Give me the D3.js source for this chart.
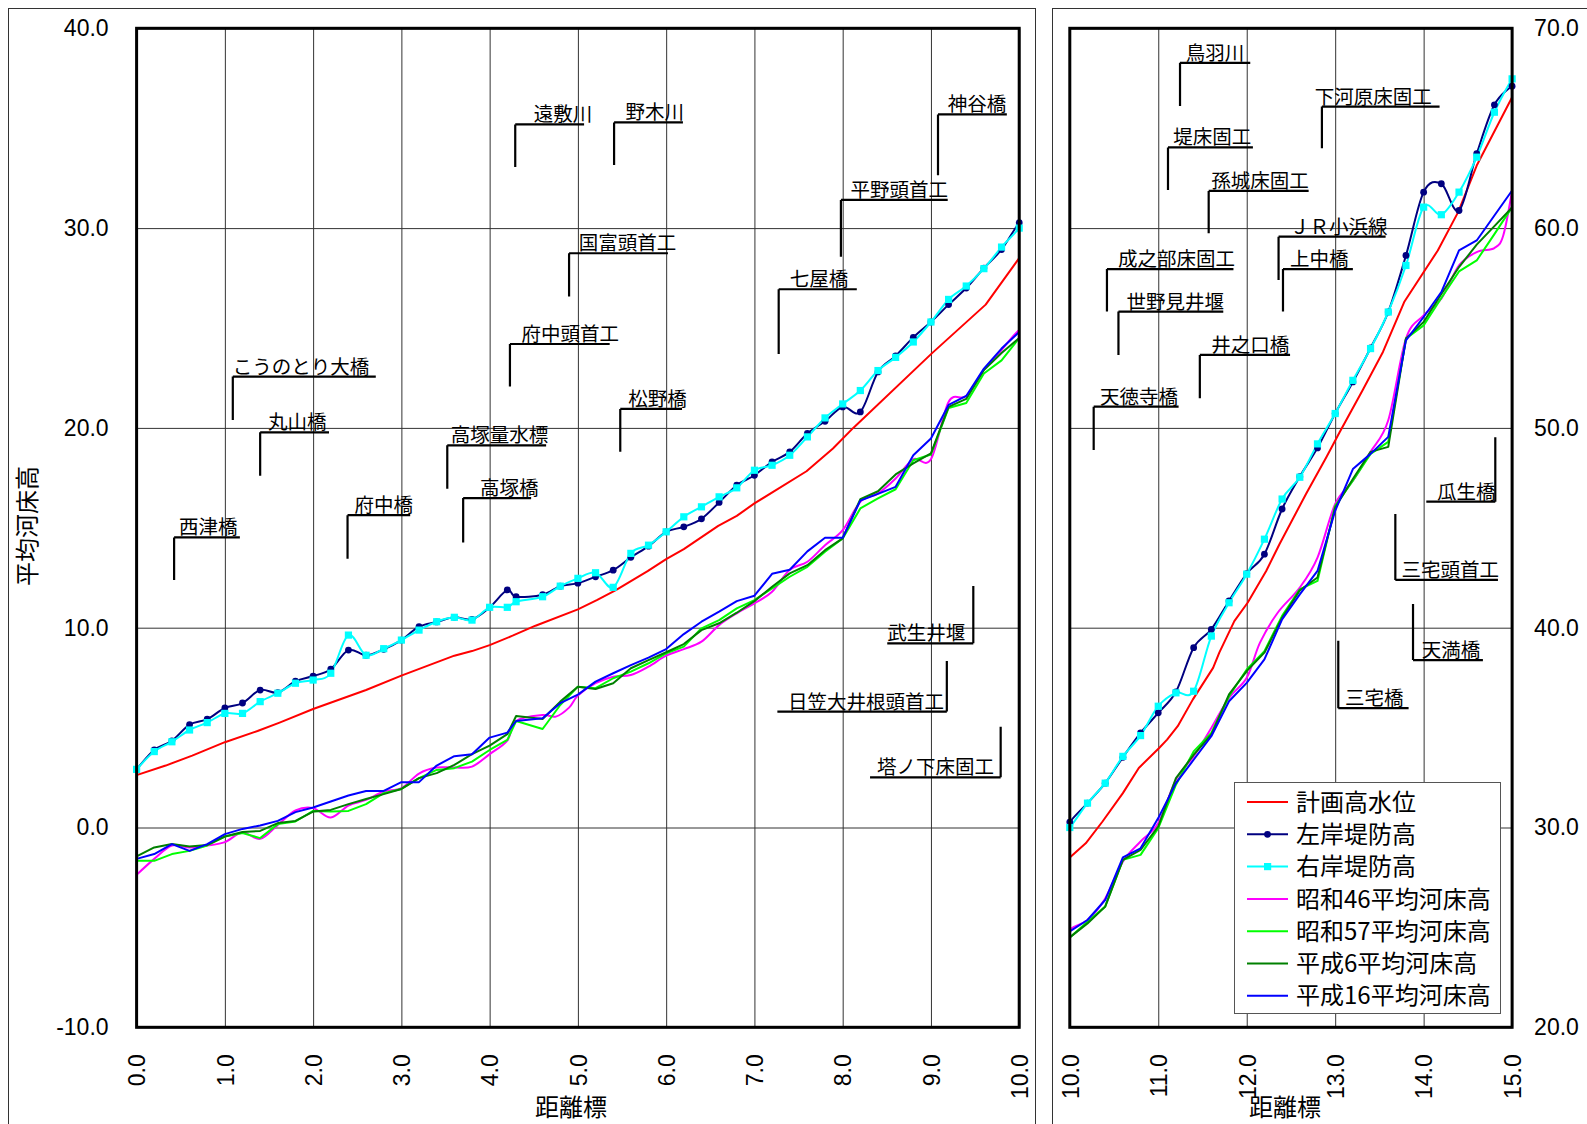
<!DOCTYPE html>
<html><head><meta charset="utf-8">
<script src="https://cdn.jsdelivr.net/npm/d3@7"></script>
<style>
html,body{margin:0;padding:0;background:#fff;}
svg{display:block;}
</style></head><body>
<svg id="chart" width="1587" height="1124"></svg>
<script>
// ---------------- DATA ----------------
const kmDyke = [0,0.2,0.4,0.6,0.8,1.0,1.2,1.4,1.6,1.8,2.0,2.2,2.4,2.6,2.8,3.0,3.2,3.4,3.6,3.8,4.0,4.2,4.3,4.6,4.8,
  5.0,5.2,5.4,5.6,5.8,6.0,6.2,6.4,6.6,6.8,7.0,7.2,7.4,7.6,7.8,8.0,8.2,8.4,8.6,8.8,9.0,9.2,9.4,9.6,9.8,10.0,
  10.2,10.4,10.6,10.8,11.0,11.2,11.4,11.6,11.8,12.0,12.2,12.4,12.6,12.8,13.0,13.2,13.4,13.6,13.8,14.0,14.2,14.4,14.6,14.8,15.0];
const leftBank = [2.9,3.88,4.34,5.15,5.42,5.98,6.23,6.88,6.75,7.32,7.58,7.92,8.88,8.62,8.92,9.38,10.05,10.29,10.52,10.42,11.02,11.89,
  11.55,11.65,12.08,
  12.23,12.55,12.88,13.52,14.08,14.80,15.05,15.45,16.27,17.13,17.63,18.30,18.80,19.72,20.33,21.05,20.80,22.80,23.60,24.53,25.30,26.17,27.0,28.0,28.93,30.27,
  31.22,32.22,33.51,34.73,35.74,36.79,39.0,39.92,41.34,42.71,43.68,45.94,47.56,49.0,50.72,52.3,54.0,55.8,58.63,61.8,62.22,60.88,63.72,66.17,67.1];
const rightBank = [2.91,3.8,4.29,4.88,5.25,5.71,5.71,6.30,6.72,7.22,7.38,7.72,9.63,8.62,8.95,9.38,9.88,10.30,10.52,10.38,11.02,11.02,
  11.30,11.55,12.08,
  12.47,12.75,12.02,13.72,14.13,14.8,15.55,16.05,16.55,17.0,17.88,18.13,18.63,19.55,20.5,21.2,21.87,22.87,23.53,24.3,25.3,26.43,27.1,27.97,29.05,30.0,
  31.22,32.22,33.56,34.6,36.07,36.74,36.82,39.58,41.25,42.68,44.43,46.44,47.53,49.2,50.72,52.38,53.97,55.8,58.13,61.05,60.67,61.8,63.55,65.8,67.47];

const kmPlan = [0,0.33,0.63,1.0,1.37,1.62,2.0,2.6,3.0,3.6,3.8,4.0,4.26,4.52,5.0,5.22,5.43,5.79,6.0,6.2,6.59,6.8,7.0,7.59,7.89,8.12,9.01,9.62,10.0,
  10.18,10.37,10.6,10.78,11.01,11.1,11.22,11.39,11.62,11.69,11.86,12.01,12.22,12.37,12.67,12.9,13.05,13.31,13.54,13.78,14.16,14.39,14.6,15.0];
const planHWL = [2.62,3.1,3.6,4.27,4.83,5.25,5.93,6.88,7.6,8.6,8.83,9.13,9.6,10.1,10.92,11.39,11.88,12.83,13.43,13.93,15.1,15.6,16.22,17.83,18.97,20.0,23.73,26.17,28.5,
  29.21,30.3,31.72,32.98,33.98,34.4,35.07,36.4,37.99,38.75,40.33,41.25,42.84,44.18,46.69,48.53,49.78,51.88,53.8,56.3,58.88,60.8,63.13,66.55];

const kmBed = kmDyke;
const bedH16 = [-1.57,-1.33,-0.83,-1.17,-0.83,-0.33,-0.07,0.1,0.33,0.77,1.0,1.3,1.6,1.83,1.83,2.27,2.27,3.1,3.57,3.67,4.5,4.75,
  5.33,5.47,6.22,
  6.65,7.3,7.72,8.13,8.5,8.93,9.68,10.3,10.8,11.33,11.6,12.7,12.9,13.82,14.5,14.5,16.36,16.7,17.05,18.63,19.47,21.15,21.6,22.97,23.97,24.8,
  25.37,26.37,28.5,28.96,30.47,32.22,33.39,34.57,36.32,37.24,38.41,40.42,41.67,42.84,45.85,47.94,48.7,49.55,54.38,55.55,56.8,58.88,59.38,60.63,61.88];
const bedH6 = [-1.45,-1.0,-0.83,-0.95,-0.87,-0.45,-0.23,-0.17,0.22,0.33,0.8,0.88,1.17,1.43,1.67,1.93,2.47,2.72,3.13,3.67,4.1,4.67,
  5.58,5.43,6.3,
  7.05,6.93,7.22,7.97,8.38,8.77,9.18,9.88,10.22,10.75,11.33,12.05,12.72,13.13,13.88,14.47,16.43,16.83,17.67,18.22,18.72,21.05,21.45,22.9,23.75,24.5,
  25.2,26.04,28.38,28.88,30.05,32.47,33.64,34.65,36.66,37.83,38.75,40.5,41.87,42.51,46.02,47.44,48.8,49.05,54.47,55.3,56.7,58.05,59.17,60.1,61.03];
const bedS57 = [-1.67,-1.67,-1.33,-1.17,-0.9,-0.45,-0.28,-0.53,0.17,0.3,0.83,0.8,0.83,1.17,1.72,1.93,2.47,2.88,2.97,3.3,3.88,4.38,
  5.33,4.93,6.13,
  7.05,6.97,7.47,7.8,8.22,8.72,9.05,9.97,10.38,10.97,11.38,11.97,12.55,13.05,13.8,14.47,15.97,16.47,16.93,18.38,18.67,21.0,21.25,22.72,23.38,24.5,
  25.28,26.04,28.38,28.63,29.97,32.14,33.81,34.73,36.57,37.91,38.83,40.59,41.92,42.34,46.1,47.36,48.7,49.3,54.47,55.13,56.5,57.83,58.38,59.7,61.05];

const kmS46 = [0,0.2,0.4,0.6,0.8,1.0,1.2,1.4,1.6,1.8,2.0,2.2,2.4,2.6,2.8,3.0,3.2,3.4,3.6,3.8,4.0,4.2,
  4.3,4.6,4.75,4.9,
  5.0,5.2,5.4,5.6,5.8,6.0,6.2,6.4,6.6,6.8,7.0,7.2,7.4,7.6,7.8,8.0,8.2,8.4,8.6,8.8,9.0,9.2,9.4,9.6,9.8,10.0,
  10.2,10.4,10.6,10.8,11.0,11.2,11.4,11.6,11.8,12.0,12.15,12.35,12.6,12.8,
  13.0,13.2,13.4,13.6,13.8,14.0,14.2,14.4,14.6,14.8,14.9,15.0];
const bedS46 = [-2.37,-1.57,-0.9,-1.0,-0.9,-0.73,-0.25,-0.57,0.13,0.85,0.97,0.5,1.1,1.38,1.8,1.97,2.7,3.0,3.0,3.05,3.67,4.35,
  5.33,5.63,5.55,6.0,
  6.6,7.22,7.55,7.63,8.05,8.6,8.93,9.3,10.13,10.72,11.22,11.8,12.9,13.3,14.13,14.88,16.3,16.72,17.47,18.43,18.43,21.3,21.6,22.9,23.9,24.9,
  25.37,26.45,28.29,29.3,30.22,32.39,33.56,34.98,36.49,37.49,39.25,40.75,42.01,43.51,
  46.19,47.36,48.8,50.38,54.47,55.63,56.47,58.13,58.8,59.0,59.63,61.88];

const seriesNames = ["計画高水位","左岸堤防高","右岸堤防高","昭和46平均河床高","昭和57平均河床高","平成6平均河床高","平成16平均河床高"];

const xTicksLeft = [0,1,2,3,4,5,6,7,8,9,10];
const yTicksLeft = [-10,0,10,20,30,40];
const xTicksRight = [10,11,12,13,14,15];
const yTicksRight = [20,30,40,50,60,70];
const xAxisTitle = "距離標";
const yAxisTitle = "平均河床高";

// annotation: text, panel, leader x (km), underline level, leader end level, underline from, underline to, text start (km)
const annoText  = ["西津橋","丸山橋","こうのとり大橋","府中橋","高塚量水標","高塚橋","府中頭首工","遠敷川","野木川","国富頭首工","松野橋","七屋橋","平野頭首工","神谷橋","武生井堰","日笠大井根頭首工","塔ノ下床固工",
  "鳥羽川","下河原床固工","堤床固工","孫城床固工","ＪＲ小浜線","上中橋","成之部床固工","世野見井堰","井之口橋","天徳寺橋","瓜生橋","三宅頭首工","天満橋","三宅橋"];
const annoPanel = [0,0,0,0,0,0,0,0,0,0,0,0,0,0,0,0,0, 1,1,1,1,1,1,1,1,1,1,1,1,1,1];
const annoLeaderKm = [0.425,1.40,1.09,2.39,3.52,3.70,4.23,4.29,5.41,4.90,5.48,7.275,7.98,9.08,9.48,9.18,9.79,
  11.246,12.85,11.11,11.57,12.36,12.41,10.42,10.55,11.47,10.27,14.81,13.68,13.88,13.035];
const annoUnderLevel = [14.52,19.78,22.57,15.63,19.13,16.49,24.2,35.19,35.29,28.74,20.95,26.94,31.41,35.69,9.22,5.8,2.51,
  68.27,66.08,64.04,61.86,59.57,57.95,57.95,55.82,53.65,51.06,46.31,42.39,38.38,35.97];
const annoEndLevel = [12.39,17.61,20.4,13.45,16.95,14.26,22.07,33.06,33.16,26.58,18.81,23.7,28.57,32.65,12.09,8.33,5.04,
  66.11,64.0,61.91,59.74,57.40,55.82,55.82,53.65,51.48,48.89,49.53,45.69,41.19,39.35];
const annoFromKm = [0.425,1.40,1.09,2.39,3.52,3.70,4.23,4.29,5.41,4.90,5.48,7.275,7.98,9.08,8.505,7.26,8.31,
  11.246,12.85,11.11,11.57,12.36,12.41,10.42,10.55,11.47,10.27,14.03,13.68,13.88,13.035];
const annoToKm = [1.17,2.18,2.71,3.10,4.64,4.47,5.36,5.07,6.19,6.02,6.18,8.16,9.19,9.86,9.48,9.18,9.79,
  12.04,14.18,12.07,12.70,13.57,13.20,11.85,11.735,12.49,11.23,14.81,14.84,14.67,13.83];
const annoTextKm = [0.48,1.49,1.09,2.47,3.56,3.89,4.36,4.50,5.54,5.01,5.57,7.40,8.09,9.19,8.505,7.38,8.39,
  11.31,12.77,11.17,11.60,12.49,12.49,10.545,10.64,11.60,10.34,14.15,13.75,13.98,13.11];

// ---------------- LAYOUT / STYLE ----------------
const svg = d3.select("#chart");
const numFont = "'Liberation Sans', Arial, sans-serif";
const jpFont = "'Noto Sans CJK JP', 'Noto Sans', sans-serif";
const fmt1 = d3.format(".1f");
const fmt = v => fmt1(v).replace("\u2212", "-");

const panels = [
  {left:136.6, right:1019.2, top:28.3, bottom:1027.3, xd:[0,10], yd:[-10,40], xt:xTicksLeft, yt:yTicksLeft, side:"left"},
  {left:1069.8, right:1512.1, top:28.3, bottom:1027.3, xd:[10,15], yd:[20,70], xt:xTicksRight, yt:yTicksRight, side:"right"}
];

const styles = [
  {name:seriesNames[0], km:kmPlan, v:planHWL, color:"#FF0000", curve:d3.curveLinear, marker:null},
  {name:seriesNames[1], km:kmDyke, v:leftBank, color:"#000080", curve:d3.curveCardinal.tension(0), marker:"circle"},
  {name:seriesNames[2], km:kmDyke, v:rightBank, color:"#00FFFF", curve:d3.curveCardinal.tension(0), marker:"square"},
  {name:seriesNames[3], km:kmS46, v:bedS46, color:"#FF00FF", curve:d3.curveCardinal.tension(0), marker:null},
  {name:seriesNames[4], km:kmBed, v:bedS57, color:"#00FF00", curve:d3.curveLinear, marker:null},
  {name:seriesNames[5], km:kmBed, v:bedH6, color:"#008000", curve:d3.curveLinear, marker:null},
  {name:seriesNames[6], km:kmBed, v:bedH16, color:"#0000FF", curve:d3.curveLinear, marker:null}
];

// outer frames
svg.append("rect").attr("x",8.5).attr("y",8.5).attr("width",1027).attr("height",1200)
  .attr("fill","none").attr("stroke","#333").attr("stroke-width",1);
svg.append("rect").attr("x",1052.5).attr("y",8.5).attr("width",700).attr("height",1200)
  .attr("fill","none").attr("stroke","#333").attr("stroke-width",1);

const defs = svg.append("defs");

panels.forEach((p, pi) => {
  const x = d3.scaleLinear().domain(p.xd).range([p.left, p.right]);
  const y = d3.scaleLinear().domain(p.yd).range([p.bottom, p.top]);
  const w = p.right - p.left, h = p.bottom - p.top;

  defs.append("clipPath").attr("id","clip"+pi).append("rect")
    .attr("x",p.left).attr("y",p.top).attr("width",w).attr("height",h);

  // grid
  const gx = svg.append("g").attr("transform",`translate(0,${p.bottom})`)
    .call(d3.axisBottom(x).tickValues(p.xt).tickSize(-h).tickFormat(""));
  gx.select(".domain").remove();
  gx.selectAll("line").attr("stroke","#333").attr("stroke-width",1);
  const gy = svg.append("g").attr("transform",`translate(${p.left},0)`)
    .call(d3.axisLeft(y).tickValues(p.yt).tickSize(-w).tickFormat(""));
  gy.select(".domain").remove();
  gy.selectAll("line").attr("stroke","#333").attr("stroke-width",1);

  // x tick labels (rotated)
  const ax = svg.append("g").attr("transform",`translate(0,${p.bottom})`)
    .call(d3.axisBottom(x).tickValues(p.xt).tickSize(0).tickFormat(fmt));
  ax.select(".domain").remove();
  ax.selectAll("text")
    .attr("transform","rotate(-90)")
    .attr("x",-27).attr("y",0).attr("dy","0.36em")
    .attr("text-anchor","end")
    .style("font-family",numFont).style("font-size","23px").attr("fill","#000");

  // y tick labels
  if (p.side === "left") {
    const ay = svg.append("g").attr("transform",`translate(${p.left},0)`)
      .call(d3.axisLeft(y).tickValues(p.yt).tickSize(0).tickPadding(28).tickFormat(fmt));
    ay.select(".domain").remove();
    ay.selectAll("text").style("font-family",numFont).style("font-size","23px").attr("fill","#000");
  } else {
    const ay = svg.append("g").attr("transform",`translate(${p.right},0)`)
      .call(d3.axisRight(y).tickValues(p.yt).tickSize(0).tickPadding(22).tickFormat(fmt));
    ay.select(".domain").remove();
    ay.selectAll("text").style("font-family",numFont).style("font-size","23px").attr("fill","#000");
  }

  // x axis title
  svg.append("text").attr("x",(p.left+p.right)/2 + (pi===0?-7:-6)).attr("y",1116)
    .attr("text-anchor","middle").style("font-family",jpFont).style("font-size","24px").text(xAxisTitle);

  // series
  const gs = svg.append("g").attr("clip-path",`url(#clip${pi})`);
  styles.forEach(s => {
    const pts = s.km.map((k,i)=>[k, s.v[i]]);
    const line = d3.line().x(d=>x(d[0])).y(d=>y(d[1])).curve(s.curve);
    gs.append("path").attr("d", line(pts)).attr("fill","none")
      .attr("stroke", s.color).attr("stroke-width",2).attr("stroke-linejoin","round");
  });
  styles.forEach(s => {
    if (!s.marker) return;
    const pts = s.km.map((k,i)=>[k, s.v[i]]).filter(d => d[0] >= p.xd[0]-1e-9 && d[0] <= p.xd[1]+1e-9);
    if (s.marker === "circle") {
      svg.append("g").selectAll("circle").data(pts).join("circle")
        .attr("cx",d=>x(d[0])).attr("cy",d=>y(d[1])).attr("r",3.4).attr("fill",s.color);
    } else {
      svg.append("g").selectAll("rect").data(pts).join("rect")
        .attr("x",d=>x(d[0])-3.6).attr("y",d=>y(d[1])-3.6).attr("width",7.2).attr("height",7.2).attr("fill",s.color);
    }
  });

  // annotations
  const ga = svg.append("g");
  annoText.forEach((t,i) => {
    if (annoPanel[i] !== pi) return;
    const xv = x(annoLeaderKm[i]);
    const yu = y(annoUnderLevel[i]);
    const ye = y(annoEndLevel[i]);
    ga.append("path")
      .attr("d", `M${x(annoFromKm[i])},${yu}H${x(annoToKm[i])}M${xv},${yu}V${ye}`)
      .attr("fill","none").attr("stroke","#000").attr("stroke-width",2.2);
    ga.append("text").attr("x", x(annoTextKm[i])).attr("y", yu - 3)
      .style("font-family",jpFont).style("font-size","19.5px").attr("fill","#000").text(t);
  });

  // plot border
  svg.append("rect").attr("x",p.left).attr("y",p.top).attr("width",w).attr("height",h)
    .attr("fill","none").attr("stroke","#000").attr("stroke-width",3);
});

// y axis title
svg.append("text").attr("transform","translate(36,526) rotate(-90)")
  .attr("text-anchor","middle").style("font-family",jpFont).style("font-size","24px").text(yAxisTitle);

// legend
const lg = svg.append("g");
lg.append("rect").attr("x",1234.5).attr("y",782.5).attr("width",266).attr("height",231)
  .attr("fill","#fff").attr("stroke","#555").attr("stroke-width",1);
styles.forEach((s,i) => {
  const cy = 802 + i*32.3;
  lg.append("line").attr("x1",1247).attr("x2",1288).attr("y1",cy).attr("y2",cy)
    .attr("stroke",s.color).attr("stroke-width",2);
  if (s.marker === "circle") lg.append("circle").attr("cx",1267.5).attr("cy",cy).attr("r",3.4).attr("fill",s.color);
  if (s.marker === "square") lg.append("rect").attr("x",1264).attr("y",cy-3.6).attr("width",7.2).attr("height",7.2).attr("fill",s.color);
  lg.append("text").attr("x",1296).attr("y",cy).attr("dy","0.36em")
    .style("font-family",jpFont).style("font-size","24px").attr("fill","#000").text(s.name);
});
</script>
</body></html>
